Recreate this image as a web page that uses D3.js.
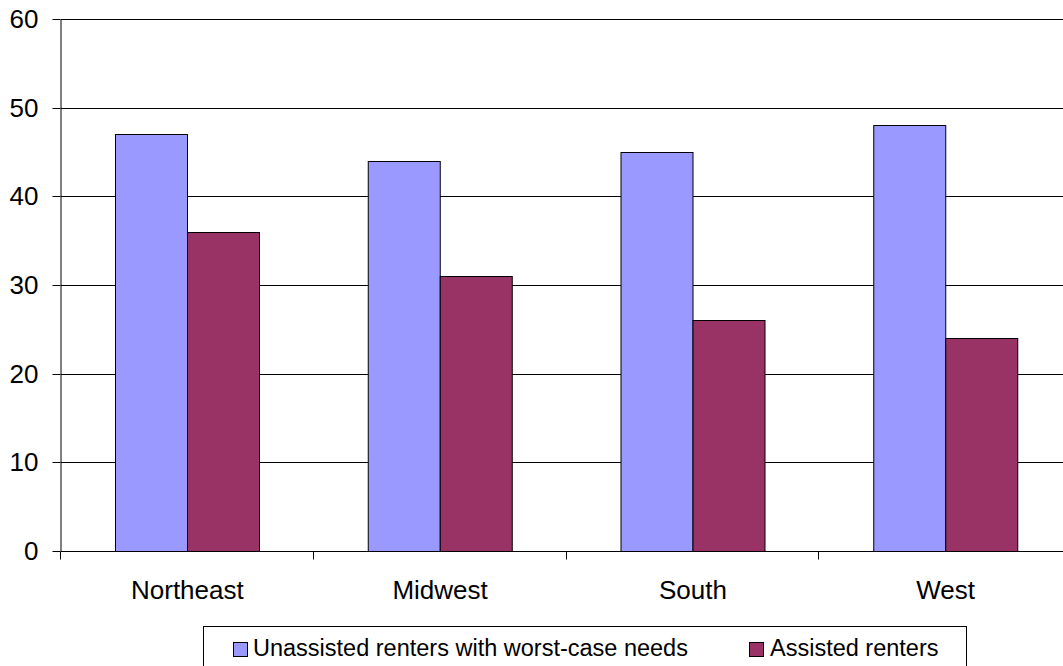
<!DOCTYPE html>
<html>
<head>
<meta charset="utf-8">
<script src="https://cdn.jsdelivr.net/npm/d3@7"></script>
<style>
  html, body { margin: 0; padding: 0; background: #fff; }
  svg { display: block; font-family: "Liberation Sans", Arial, sans-serif; }
</style>
</head>
<body>
<svg id="chart" width="1063" height="666"></svg>
<script>
// Share of renters by region (%)
const regions = ["Northeast", "Midwest", "South", "West"];
const seriesNames = ["Unassisted renters with worst-case needs", "Assisted renters"];
const unassisted = [47, 44, 45, 48];
const assisted = [36, 31, 26, 24];
const yTicks = [0, 10, 20, 30, 40, 50, 60];
const colors = ["#9999FF", "#993366"];

const svg = d3.select("#chart");
const plotLeft = 61, plotRight = 1072, plotTop = 19, plotBottom = 551;

const x = d3.scaleBand().domain(regions).range([plotLeft, plotRight]).padding(0);
const xInner = d3.scaleBand().domain(seriesNames).range([0, x.bandwidth()])
  .paddingInner(0).paddingOuter(0.75);
const y = d3.scaleLinear().domain([0, 60]).range([plotBottom, plotTop]);

const crisp = v => Math.round(v) + 0.5;

// horizontal gridlines
svg.append("g").selectAll("line").data(yTicks.filter(d => d > 0)).join("line")
  .attr("x1", plotLeft).attr("x2", plotRight)
  .attr("y1", d => crisp(y(d))).attr("y2", d => crisp(y(d)))
  .attr("stroke", "#000").attr("stroke-width", 1);

// bars
const rows = regions.map((r, i) => ({ region: r, values: [unassisted[i], assisted[i]] }));
const groups = svg.append("g").selectAll("g").data(rows).join("g")
  .attr("transform", d => `translate(${x(d.region)},0)`);
groups.selectAll("rect").data(d => d.values.map((v, j) => ({ v, j }))).join("rect")
  .attr("x", d => Math.round(xInner(seriesNames[d.j])) + 0.5)
  .attr("width", Math.round(xInner.bandwidth()))
  .attr("y", d => crisp(y(d.v)))
  .attr("height", d => Math.round(y(0)) - Math.round(y(d.v)))
  .attr("fill", d => colors[d.j])
  .attr("stroke", "#000").attr("stroke-width", 1);

// y axis
const yAxis = svg.append("g").attr("transform", `translate(${crisp(plotLeft) - 1},0)`)
  .call(d3.axisLeft(y).tickValues(yTicks).tickSize(8).tickPadding(14)
    .tickSizeOuter(0));
yAxis.select(".domain").attr("stroke", "#000");
yAxis.selectAll(".tick line").attr("stroke", "#000");
yAxis.selectAll(".tick").attr("transform", d => `translate(0,${crisp(y(d))})`);
yAxis.selectAll("text").attr("font-size", 26).attr("fill", "#000")
  .attr("font-family", "Liberation Sans, Arial, sans-serif");

// x axis baseline and band-boundary ticks
svg.append("line")
  .attr("x1", plotLeft).attr("x2", plotRight)
  .attr("y1", crisp(plotBottom)).attr("y2", crisp(plotBottom))
  .attr("stroke", "#000");
const boundaries = regions.map(r => x(r)).concat([plotRight]);
svg.append("g").selectAll("line").data(boundaries).join("line")
  .attr("x1", d => crisp(d) - 1).attr("x2", d => crisp(d) - 1)
  .attr("y1", crisp(plotBottom)).attr("y2", crisp(plotBottom) + 8)
  .attr("stroke", "#000");

// category labels
svg.append("g").selectAll("text").data(regions).join("text")
  .attr("x", d => x(d) + x.bandwidth() / 2)
  .attr("y", 599)
  .attr("text-anchor", "middle")
  .attr("font-size", 26)
  .attr("fill", "#000")
  .text(d => d);

// legend
const legend = svg.append("g");
legend.append("rect")
  .attr("x", 203.5).attr("y", 626.5).attr("width", 763).attr("height", 60)
  .attr("fill", "#fff").attr("stroke", "#000");
const legendItems = [
  { name: seriesNames[0], color: colors[0], sx: 233, tx: 253 },
  { name: seriesNames[1], color: colors[1], sx: 749, tx: 770 }
];
legendItems.forEach(it => {
  legend.append("rect")
    .attr("x", it.sx + 0.5).attr("y", 642.5).attr("width", 14).attr("height", 14)
    .attr("fill", it.color).attr("stroke", "#000");
  legend.append("text")
    .attr("x", it.tx).attr("y", 656)
    .attr("font-size", 23.5).attr("fill", "#000")
    .text(it.name);
});
</script>
</body>
</html>
